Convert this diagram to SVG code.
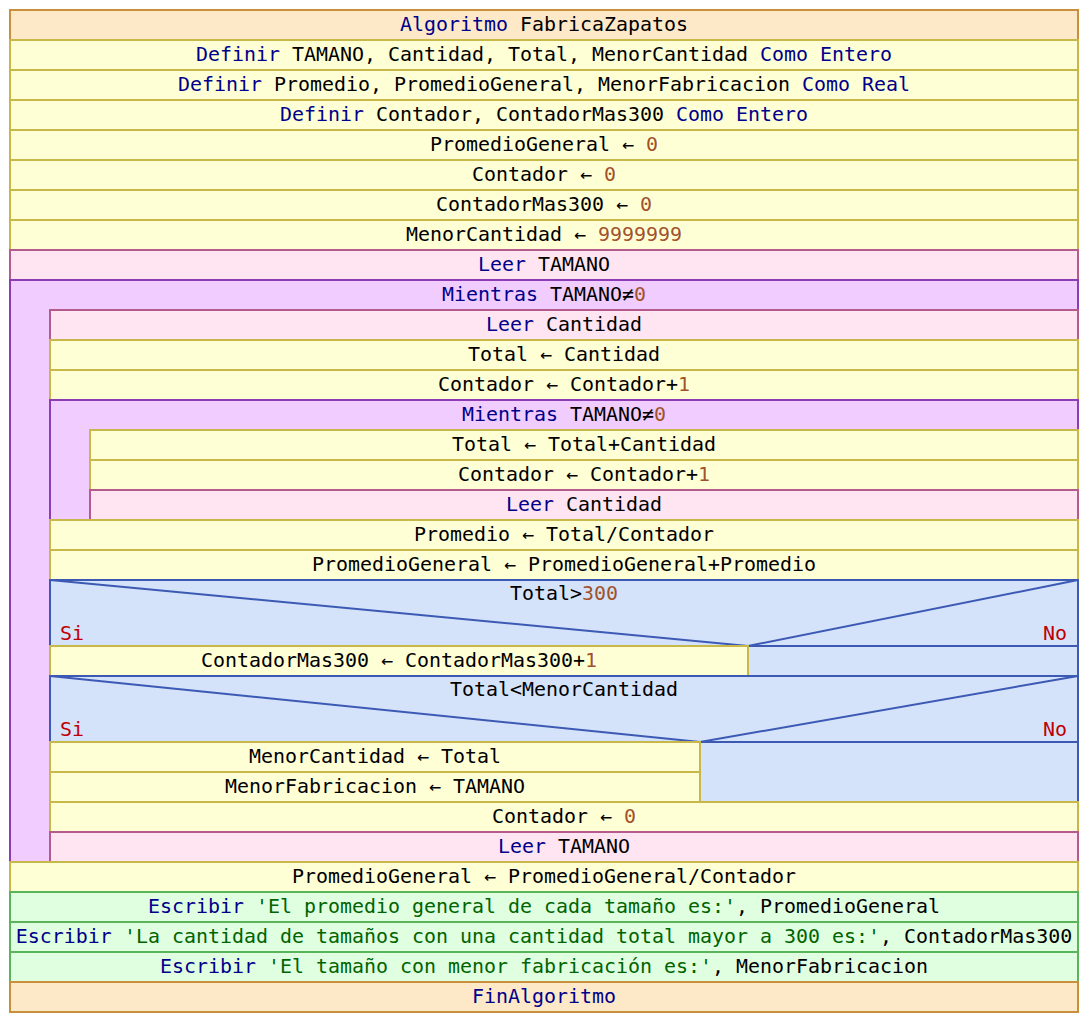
<svg xmlns="http://www.w3.org/2000/svg" width="1088" height="1022" viewBox="0 0 1088 1022">
<style>
text{font-family:"DejaVu Sans Mono","Liberation Mono",monospace;font-size:19.95px;fill:#000;text-anchor:middle}
.k{fill:#00008b}.n{fill:#a0522d}.s{fill:#006400}
.lbl{fill:#c00000}
.io{fill:#fde9c8;stroke:#c8903c;stroke-width:2}
.as{fill:#ffffd6;stroke:#c8b84a;stroke-width:2}
.rd{fill:#ffe4f2;stroke:#b45a8c;stroke-width:2}
.lp{fill:#f0ccff;stroke:#8c3cb4;stroke-width:2}
.if{fill:#d4e2fa;stroke:#3c5ab4;stroke-width:2}
.wr{fill:#e0ffe0;stroke:#5ab45a;stroke-width:2}
.dg{fill:none;stroke:#3c5ab4;stroke-width:2}
</style>
<rect width="1088" height="1022" fill="#fff"/>
<g id="algoritmo"><rect class="io" x="10" y="10" width="1068" height="30"/><text x="544" y="31"><tspan class="k">Algoritmo</tspan> FabricaZapatos</text></g>
<g id="def1"><rect class="as" x="10" y="40" width="1068" height="30"/><text x="544" y="61"><tspan class="k">Definir</tspan> TAMANO, Cantidad, Total, MenorCantidad <tspan class="k">Como Entero</tspan></text></g>
<g id="def2"><rect class="as" x="10" y="70" width="1068" height="30"/><text x="544" y="91"><tspan class="k">Definir</tspan> Promedio, PromedioGeneral, MenorFabricacion <tspan class="k">Como Real</tspan></text></g>
<g id="def3"><rect class="as" x="10" y="100" width="1068" height="30"/><text x="544" y="121"><tspan class="k">Definir</tspan> Contador, ContadorMas300 <tspan class="k">Como Entero</tspan></text></g>
<g id="asig1"><rect class="as" x="10" y="130" width="1068" height="30"/><text x="544" y="151">PromedioGeneral ← <tspan class="n">0</tspan></text></g>
<g id="asig2"><rect class="as" x="10" y="160" width="1068" height="30"/><text x="544" y="181">Contador ← <tspan class="n">0</tspan></text></g>
<g id="asig3"><rect class="as" x="10" y="190" width="1068" height="30"/><text x="544" y="211">ContadorMas300 ← <tspan class="n">0</tspan></text></g>
<g id="asig4"><rect class="as" x="10" y="220" width="1068" height="30"/><text x="544" y="241">MenorCantidad ← <tspan class="n">9999999</tspan></text></g>
<g id="leer1"><rect class="rd" x="10" y="250" width="1068" height="30"/><text x="544" y="271"><tspan class="k">Leer</tspan> TAMANO</text></g>
<g id="mientras1"><path class="lp" d="M10 280H1078V310H50V862H10Z"/><text x="544" y="301"><tspan class="k">Mientras</tspan> TAMANO≠<tspan class="n">0</tspan></text></g>
<g id="leer2"><rect class="rd" x="50" y="310" width="1028" height="30"/><text x="564" y="331"><tspan class="k">Leer</tspan> Cantidad</text></g>
<g id="asig5"><rect class="as" x="50" y="340" width="1028" height="30"/><text x="564" y="361">Total ← Cantidad</text></g>
<g id="asig6"><rect class="as" x="50" y="370" width="1028" height="30"/><text x="564" y="391">Contador ← Contador+<tspan class="n">1</tspan></text></g>
<g id="mientras2"><path class="lp" d="M50 400H1078V430H90V520H50Z"/><text x="564" y="421"><tspan class="k">Mientras</tspan> TAMANO≠<tspan class="n">0</tspan></text></g>
<g id="asig7"><rect class="as" x="90" y="430" width="988" height="30"/><text x="584" y="451">Total ← Total+Cantidad</text></g>
<g id="asig8"><rect class="as" x="90" y="460" width="988" height="30"/><text x="584" y="481">Contador ← Contador+<tspan class="n">1</tspan></text></g>
<g id="leer3"><rect class="rd" x="90" y="490" width="988" height="30"/><text x="584" y="511"><tspan class="k">Leer</tspan> Cantidad</text></g>
<g id="asig9"><rect class="as" x="50" y="520" width="1028" height="30"/><text x="564" y="541">Promedio ← Total/Contador</text></g>
<g id="asig10"><rect class="as" x="50" y="550" width="1028" height="30"/><text x="564" y="571">PromedioGeneral ← PromedioGeneral+Promedio</text></g>
<g id="si1"><rect class="if" x="50" y="580" width="1028" height="66"/><path class="dg" d="M50 580L748 646L1078 580"/><text x="564" y="600">Total&gt;<tspan class="n">300</tspan></text><text class="lbl" x="60" y="640" style="text-anchor:start">Si</text><text class="lbl" x="1067" y="640" style="text-anchor:end">No</text><rect class="if" x="748" y="646" width="330" height="30"/></g>
<g id="asig11"><rect class="as" x="50" y="646" width="698" height="30"/><text x="399" y="667">ContadorMas300 ← ContadorMas300+<tspan class="n">1</tspan></text></g>
<g id="si2"><rect class="if" x="50" y="676" width="1028" height="66"/><path class="dg" d="M50 676L700 742L1078 676"/><text x="564" y="696">Total&lt;MenorCantidad</text><text class="lbl" x="60" y="736" style="text-anchor:start">Si</text><text class="lbl" x="1067" y="736" style="text-anchor:end">No</text><rect class="if" x="700" y="742" width="378" height="60"/></g>
<g id="asig12"><rect class="as" x="50" y="742" width="650" height="30"/><text x="375" y="763">MenorCantidad ← Total</text></g>
<g id="asig13"><rect class="as" x="50" y="772" width="650" height="30"/><text x="375" y="793">MenorFabricacion ← TAMANO</text></g>
<g id="asig14"><rect class="as" x="50" y="802" width="1028" height="30"/><text x="564" y="823">Contador ← <tspan class="n">0</tspan></text></g>
<g id="leer4"><rect class="rd" x="50" y="832" width="1028" height="30"/><text x="564" y="853"><tspan class="k">Leer</tspan> TAMANO</text></g>
<g id="asig15"><rect class="as" x="10" y="862" width="1068" height="30"/><text x="544" y="883">PromedioGeneral ← PromedioGeneral/Contador</text></g>
<g id="escribir1"><rect class="wr" x="10" y="892" width="1068" height="30"/><text x="544" y="913"><tspan class="k">Escribir</tspan> <tspan class="s">'El promedio general de cada tamaño es:'</tspan>, PromedioGeneral</text></g>
<g id="escribir2"><rect class="wr" x="10" y="922" width="1068" height="30"/><text x="544" y="943"><tspan class="k">Escribir</tspan> <tspan class="s">'La cantidad de tamaños con una cantidad total mayor a 300 es:'</tspan>, ContadorMas300</text></g>
<g id="escribir3"><rect class="wr" x="10" y="952" width="1068" height="30"/><text x="544" y="973"><tspan class="k">Escribir</tspan> <tspan class="s">'El tamaño con menor fabricación es:'</tspan>, MenorFabricacion</text></g>
<g id="finalgoritmo"><rect class="io" x="10" y="982" width="1068" height="30"/><text x="544" y="1003"><tspan class="k">FinAlgoritmo</tspan></text></g>
<g id="connectors"/>
</svg>
